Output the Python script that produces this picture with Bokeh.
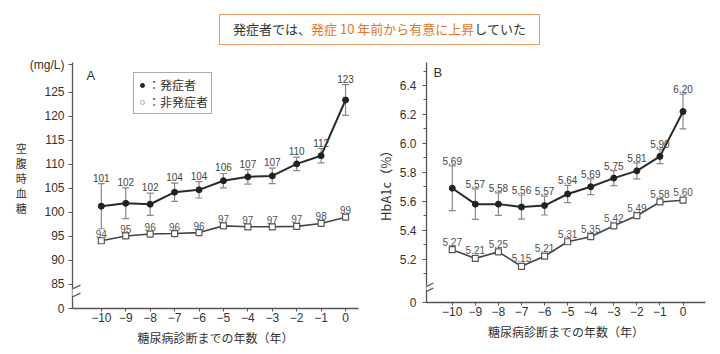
import numpy as np
from bokeh.plotting import figure
from bokeh.models import (ColumnDataSource, Whisker, TeeHead, FixedTicker, Label,
                          Legend, LegendItem, Arrow, PolyAnnotation, Div, Range1d)
from bokeh.layouts import column, row
from bokeh.embed import file_html
from bokeh.resources import INLINE
from bokeh.core.properties import value

# ---------------- data ----------------
years = [-10, -9, -8, -7, -6, -5, -4, -3, -2, -1, 0]
year_tick_labels = ["−10", "−9", "−8", "−7", "−6", "−5", "−4", "−3", "−2", "−1", "0"]

# Panel A: fasting blood glucose (mg/L)
a_onset = [101.3, 101.9, 101.7, 104.2, 104.7, 106.6, 107.4, 107.6, 110.1, 111.8, 123.4]
a_onset_err = [4.7, 3.2, 2.3, 1.9, 1.7, 1.5, 1.5, 1.6, 1.4, 1.5, 3.2]
a_onset_labels = ["101", "102", "102", "104", "104", "106", "107", "107", "110", "112", "123"]
a_non = [94.1, 95.1, 95.5, 95.6, 95.8, 97.2, 97.0, 97.0, 97.1, 97.7, 99.0]
a_non_labels = ["94", "95", "96", "96", "96", "97", "97", "97", "97", "98", "99"]
a_yticks = [80, 85, 90, 95, 100, 105, 110, 115, 120, 125, 130.7]
a_ytick_labels = ["0", "85", "90", "95", "100", "105", "110", "115", "120", "125", "(mg/L)"]

# Panel B: HbA1c (%)
b_onset = [5.69, 5.58, 5.58, 5.56, 5.57, 5.65, 5.70, 5.76, 5.81, 5.91, 6.22]
b_onset_err = [0.155, 0.105, 0.078, 0.083, 0.065, 0.06, 0.055, 0.052, 0.055, 0.05, 0.12]
b_onset_labels = ["5.69", "5.57", "5.58", "5.56", "5.57", "5.64", "5.69", "5.75", "5.81", "5.90", "6.20"]
b_non = [5.265, 5.205, 5.25, 5.15, 5.22, 5.32, 5.355, 5.43, 5.50, 5.595, 5.607]
b_non_labels = ["5.27", "5.21", "5.25", "5.15", "5.21", "5.31", "5.35", "5.42", "5.49", "5.58", "5.60"]
b_yticks = [4.9, 5.2, 5.4, 5.6, 5.8, 6.0, 6.2, 6.4]
b_ytick_labels = ["0", "5.2", "5.4", "5.6", "5.8", "6.0", "6.2", "6.4"]
b_yminor = [5.1, 5.3, 5.5, 5.7, 5.9, 6.1, 6.3, 6.5]

title_black1 = "発症者では、"
title_orange = "発症 10 年前から有意に上昇"
title_black2 = "していた"
x_title = "糖尿病診断までの年数（年）"
a_ytitle = "空腹時血糖"
b_ytitle = "HbA1c（%）"
legend_onset = "：発症者"
legend_non = "：非発症者"

JP = "Noto Sans CJK JP"
NUM = "Liberation Sans"
AX = "#555555"
TXT = "#333333"


def make_panel(width, height, bl, br, bt, bb, xr, yr, yticks, ylabels, yminor, ystandoff):
    p = figure(width=width, height=height, x_range=Range1d(*xr), y_range=Range1d(*yr),
               output_backend="svg", toolbar_location=None,
               min_border_left=bl, min_border_right=br, min_border_top=bt, min_border_bottom=bb)
    p.outline_line_color = None
    p.xgrid.visible = False
    p.ygrid.visible = False
    p.xaxis.ticker = FixedTicker(ticks=years)
    p.xaxis.major_label_overrides = {y: l for y, l in zip(years, year_tick_labels)}
    p.yaxis.ticker = FixedTicker(ticks=yticks, minor_ticks=yminor)
    p.yaxis.major_label_overrides = {y: l for y, l in zip(yticks, ylabels)}
    for ax in (p.xaxis, p.yaxis):
        ax.axis_line_color = AX
        ax.axis_line_width = 1.3
        ax.major_tick_line_color = AX
        ax.minor_tick_line_color = AX
        ax.major_tick_in = 0
        ax.minor_tick_in = 0
        ax.major_label_text_font = NUM
        ax.major_label_text_font_size = "12px"
        ax.major_label_text_color = TXT
        ax.axis_label_text_font_style = "normal"
        ax.axis_label_text_color = TXT
    p.xaxis.major_tick_out = 3
    p.xaxis.minor_tick_line_color = None
    p.yaxis.major_tick_out = 4
    p.yaxis.minor_tick_out = 3
    p.xaxis.major_label_standoff = 1
    p.yaxis.major_label_standoff = ystandoff
    p.xaxis.axis_label = x_title
    p.xaxis.axis_label_text_font = JP
    p.xaxis.axis_label_text_font_size = "12px"
    p.xaxis.axis_label_standoff = 4
    return p


def add_series(p, onset, err, onset_labels, non, non_labels, on_off, non_off):
    upper = [v + e for v, e in zip(onset, err)]
    lower = [v - e for v, e in zip(onset, err)]
    src = ColumnDataSource(dict(x=years, y=onset, upper=upper, lower=lower, lab=onset_labels))
    p.add_layout(Whisker(base="x", upper="upper", lower="lower", source=src,
                         line_color="#888888", line_width=1.2,
                         upper_head=TeeHead(size=7, line_color="#888888", line_width=1.2),
                         lower_head=TeeHead(size=7, line_color="#888888", line_width=1.2)))
    nsrc = ColumnDataSource(dict(x=years, y=non, lab=non_labels))
    p.line("x", "y", source=nsrc, line_color="#444444", line_width=1.6)
    p.scatter("x", "y", source=nsrc, marker="square", size=6, fill_color="white",
              line_color="#555555", line_width=1.2)
    p.line("x", "y", source=src, line_color="#2a2a2a", line_width=2)
    p.scatter("x", "y", source=src, marker="circle", size=6, fill_color="#222222",
              line_color="#222222")
    p.text(x="x", y="upper", text="lab", source=src, text_font=value(NUM),
           text_font_size="10px", text_align="center", text_baseline="bottom",
           y_offset=on_off, text_color="#444444")
    p.text(x="x", y="y", text="lab", source=nsrc, text_font=value(NUM),
           text_font_size="10px", text_align="center", text_baseline="bottom",
           y_offset=non_off, text_color="#555555")


def add_break(p, x0, ymid, ppx, ppy, left, right, rise, gap):
    dx = 1.0 / ppx
    dy = 1.0 / ppy
    p.add_layout(PolyAnnotation(xs=[x0 - 3 * dx, x0 + 3 * dx, x0 + 3 * dx, x0 - 3 * dx],
                                ys=[ymid - gap / 2 * dy, ymid - gap / 2 * dy,
                                    ymid + gap / 2 * dy, ymid + gap / 2 * dy],
                                fill_color="white", fill_alpha=1, line_color=None))
    for s in (-1, 1):
        yc = ymid + s * gap / 2 * dy
        p.add_layout(Arrow(end=None, x_start=x0 - left * dx, y_start=yc - rise / 2 * dy,
                           x_end=x0 + right * dx, y_end=yc + rise / 2 * dy,
                           line_color=AX, line_width=1.2))


# ---------------- Panel A ----------------
a_xr = (-11.18, 0.53)
a_yr = (80, 131.2)
pa = make_panel(372, 302, 72, 14, 10, 46, a_xr, a_yr, a_yticks, a_ytick_labels, [], 4)
pa.yaxis.axis_label = "\n".join(list(a_ytitle)) + "\n "
pa.yaxis.axis_label_orientation = "horizontal"
pa.yaxis.axis_label_text_font = JP
pa.yaxis.axis_label_text_font_size = "11px"
pa.yaxis.axis_label_text_line_height = 0.95
pa.yaxis.axis_label_standoff = 0
add_series(pa, a_onset, a_onset_err, a_onset_labels, a_non, a_non_labels, -2, -3)
add_break(pa, a_xr[0], 83.4, 286 / (a_xr[1] - a_xr[0]), 246 / (a_yr[1] - a_yr[0]),
          5, 8, 6, 8)

r_on = pa.scatter(x=[np.nan], y=[np.nan], marker="circle", size=5,
                  fill_color="#222222", line_color="#222222")
r_non = pa.scatter(x=[np.nan], y=[np.nan], marker="circle", size=6,
                   fill_color="white", line_color="#aaaaaa")
leg = Legend(items=[LegendItem(label=legend_onset, renderers=[r_on]),
                    LegendItem(label=legend_non, renderers=[r_non])],
             location=(61, 194), label_text_font=JP, label_text_font_size="12px",
             label_text_color=TXT, label_height=14, glyph_height=14, glyph_width=10,
             label_standoff=1, padding=3, spacing=0, margin=0,
             border_line_color=AX, border_line_width=1, background_fill_color="white",
             background_fill_alpha=1)
pa.add_layout(leg)

pa.add_layout(Label(x=14, y=233, x_units="screen", y_units="screen", text="A",
                    text_font=NUM, text_font_size="13px", text_color=TXT,
                    text_baseline="middle", text_align="left"))

# ---------------- Panel B ----------------
b_xr = (-11.116, 0.974)
b_yr = (4.9, 6.559)
pb = make_panel(348, 296, 51, 15, 10, 46, b_xr, b_yr, b_yticks, b_ytick_labels, b_yminor, 6)
pb.yaxis.axis_label = b_ytitle
pb.yaxis.axis_label_text_font = JP
pb.yaxis.axis_label_text_font_size = "13px"
pb.yaxis.axis_label_standoff = 2
add_series(pb, b_onset, b_onset_err, b_onset_labels, b_non, b_non_labels, -1, -4)
add_break(pb, b_xr[0], 5.0, 282 / (b_xr[1] - b_xr[0]), 240 / (b_yr[1] - b_yr[0]),
          3, 7, 5, 5)
pb.add_layout(Label(x=7, y=230, x_units="screen", y_units="screen", text="B",
                    text_font=NUM, text_font_size="13px", text_color=TXT,
                    text_baseline="middle", text_align="left"))

# ---------------- Title ----------------
title_html = (
    '<div style="margin:0; padding-top:14px; padding-left:219px;">'
    '<div style="width:321px; height:31px; box-sizing:border-box; border:1.5px solid #E39B63; '
    "font-family:'Noto Sans CJK JP'; font-size:13px; color:#333; display:flex; "
    'align-items:center; justify-content:center; white-space:nowrap;">'
    f'{title_black1}<span style="color:#E2762F;">{title_orange}</span>{title_black2}'
    '</div></div>'
)
title = Div(text=title_html, width=720, height=52, margin=(0, 0, 0, 0))

layout = column(title, row(pa, pb, spacing=0, align="start"), spacing=0)

with open("out.html", "w") as f:
    f.write(file_html(layout, INLINE))
